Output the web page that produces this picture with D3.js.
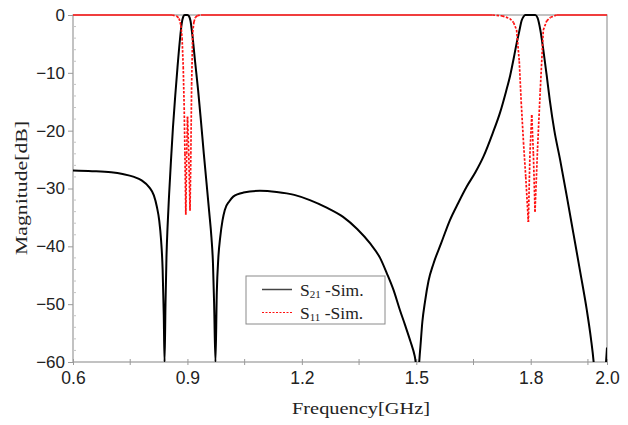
<!DOCTYPE html>
<html><head><meta charset="utf-8">
<script src="https://cdn.jsdelivr.net/npm/d3@7"></script>
<style>body{margin:0;background:#fff}svg{display:block}</style>
</head><body>
<script>
// ---- data ----
const s21Freq = [0.600,0.650,0.700,0.730,0.760,0.780,0.800,0.812,0.820,0.826,0.831,0.835,0.838,0.840,0.8425,0.845,0.848,0.852,0.857,0.862,0.868,0.874,0.880,0.885,0.889,0.893,0.900,0.904,0.908,0.913,0.920,0.928,0.935,0.943,0.950,0.957,0.963,0.967,0.970,0.9735,0.977,0.981,0.986,0.992,0.998,1.010,1.020,1.047,1.090,1.134,1.180,1.221,1.265,1.308,1.345,1.379,1.405,1.423,1.440,1.457,1.470,1.485,1.496,1.504,1.510,1.516,1.523,1.532,1.545,1.565,1.588,1.610,1.632,1.655,1.676,1.700,1.720,1.735,1.746,1.756,1.763,1.770,1.776,1.781,1.786,1.790,1.812,1.818,1.825,1.833,1.842,1.850,1.862,1.877,1.895,1.912,1.930,1.947,1.958,1.965,1.975,1.985,1.993,1.997,2.000];
const s21dB   = [-26.9,-27.0,-27.2,-27.5,-28.0,-28.6,-29.8,-31.2,-33.2,-35.5,-39,-44,-52,-60,-50,-42,-36.5,-31,-25,-19.5,-14,-9,-4.5,-1.5,-0.3,0,0,-0.2,-1,-3.5,-8,-13,-18,-24,-29,-34,-38.5,-43,-50,-60,-48,-42,-38.4,-35.5,-33.7,-32.2,-31.4,-30.7,-30.4,-30.6,-31.1,-32,-33.3,-34.9,-37,-39.5,-42,-44.7,-47.5,-51,-53.5,-56.5,-59,-62,-58,-53,-49.5,-46,-43,-39.5,-35.5,-32.5,-29.7,-27.2,-24.5,-20.5,-16.8,-13.3,-10.5,-7.3,-4.9,-2.8,-1.0,-0.3,0,0,0,-0.5,-2.5,-6,-10.5,-14.7,-20,-25,-31.5,-37.8,-44.5,-51,-56,-60,-70,-75,-65,-60.5,-57.5];
const s11Freq = [0.600,0.860,0.872,0.878,0.883,0.886,0.889,0.8915,0.8935,0.8957,0.898,0.9002,0.9035,0.9068,0.909,0.911,0.9138,0.917,0.921,0.926,0.935,1.700,1.725,1.745,1.755,1.763,1.770,1.775,1.781,1.787,1.7938,1.798,1.8027,1.807,1.8113,1.818,1.825,1.833,1.842,1.852,1.868,2.000];
const s11dB   = [0,0,-0.2,-0.6,-1.8,-4,-9,-16,-24,-34.5,-24,-17.6,-24,-33.8,-24,-12,-3,-1.2,-0.4,-0.1,0,0,-0.15,-0.6,-1.3,-2.6,-8,-15,-22,-28,-35.8,-24,-17.3,-24,-34,-23,-13,-2.6,-1,-0.4,0,0];
const xTicks = [0.6,0.9,1.2,1.5,1.8,2.0];
const xMinor = [0.75,1.05,1.35,1.65,1.95];
const yTicks = [0,-10,-20,-30,-40,-50,-60];
const legendLabels = [["S","21"," -Sim."],["S","11"," -Sim."]];
const xTitle = "Frequency[GHz]";
const yTitle = "Magnitude[dB]";

const W=628,H=425;
const L=73,R=607,T=15,B=362;
const svg=d3.select("body").append("svg").attr("width",W).attr("height",H);
const x=d3.scaleLinear().domain([0.6,2.0]).range([L,R]);
const y=d3.scaleLinear().domain([-60,0]).range([B,T]);
const axisCol="#9a9a9a";

svg.append("defs").append("clipPath").attr("id","clip")
  .append("rect").attr("x",L).attr("y",T-3).attr("width",R-L).attr("height",B-T+3);

// frame
svg.append("rect").attr("x",L).attr("y",T).attr("width",R-L).attr("height",B-T)
  .attr("fill","none").attr("stroke",axisCol).attr("stroke-width",1.2);

// y minor ticks
const yMinor=d3.range(-58,0,2).filter(v=>v%10!==0);
svg.append("g").selectAll("line").data(yMinor).join("line")
  .attr("x1",L).attr("x2",L+3).attr("y1",d=>y(d)).attr("y2",d=>y(d))
  .attr("stroke","#c4c4c4").attr("stroke-width",1);

// x axis
const xa=svg.append("g").attr("transform",`translate(0,${B})`)
  .call(d3.axisBottom(x).tickValues(xTicks).tickFormat(d3.format(".1f")).tickSize(4).tickPadding(6));
xa.select(".domain").remove();
xa.selectAll("line").attr("stroke",axisCol).attr("y1",-3).attr("y2",3);
xa.selectAll("text").attr("font-family","Liberation Sans, Arial, sans-serif").attr("font-size",17.5).attr("fill","#222");
svg.append("g").selectAll("line").data(xMinor).join("line")
  .attr("x1",d=>x(d)).attr("x2",d=>x(d)).attr("y1",B-3).attr("y2",B+3)
  .attr("stroke",axisCol);

// y axis
const ya=svg.append("g").attr("transform",`translate(${L},0)`)
  .call(d3.axisLeft(y).tickValues(yTicks).tickFormat(d3.format("d")).tickSize(5).tickPadding(3));
ya.select(".domain").remove();
ya.selectAll("line").attr("stroke",axisCol);
ya.selectAll("text").attr("font-family","Liberation Sans, Arial, sans-serif").attr("font-size",17).attr("fill","#222");

// titles
svg.append("text").attr("x",(L+R)/2+21).attr("y",414).attr("text-anchor","middle")
  .attr("font-family","Liberation Serif, Times New Roman, serif").attr("font-size",17.5)
  .attr("textLength",138).attr("lengthAdjust","spacingAndGlyphs").attr("fill","#222").text(xTitle);
svg.append("text").attr("transform","translate(27,188) rotate(-90)").attr("text-anchor","middle")
  .attr("font-family","Liberation Serif, Times New Roman, serif").attr("font-size",17.5)
  .attr("textLength",134).attr("lengthAdjust","spacingAndGlyphs").attr("fill","#222").text(yTitle);

const plot=svg.append("g").attr("clip-path","url(#clip)");

// S21 black
const s21=s21Freq.map((f,i)=>[f,s21dB[i]]);
plot.append("path").datum(s21)
  .attr("d",d3.line().x(d=>x(d[0])).y(d=>y(d[1])).curve(d3.curveMonotoneX))
  .attr("fill","none").attr("stroke","#000").attr("stroke-width",2);

// S11 red: segment-wise so flat runs look solid and steep runs dashed
const s11=s11Freq.map((f,i)=>[f,s11dB[i]]);
const segs=d3.pairs(s11);
plot.append("g").selectAll("line").data(segs).join("line")
  .attr("x1",d=>x(d[0][0])).attr("y1",d=>y(d[0][1]))
  .attr("x2",d=>x(d[1][0])).attr("y2",d=>y(d[1][1]))
  .attr("stroke","#ff1010").attr("stroke-width",1.7)
  .attr("stroke-dasharray",d=>Math.abs(y(d[1][1])-y(d[0][1]))>0.5?"2.5,1.5":null);

// legend
const lg=svg.append("g");
lg.append("rect").attr("x",246).attr("y",276).attr("width",139).attr("height",48)
  .attr("fill","#fff").attr("stroke","#8a8a8a").attr("stroke-width",1);
const lgY=[289.5,312.5];
const lgStyle=[{c:"#444",w:1.5,dash:null},{c:"#ff1010",w:1.2,dash:"2,1.5"}];
legendLabels.forEach((lab,i)=>{
  lg.append("line").attr("x1",262).attr("x2",292).attr("y1",lgY[i]).attr("y2",lgY[i])
    .attr("stroke",lgStyle[i].c).attr("stroke-width",lgStyle[i].w).attr("stroke-dasharray",lgStyle[i].dash);
  const t=lg.append("text").attr("x",300).attr("y",lgY[i]+6)
    .attr("font-family","Liberation Serif, Times New Roman, serif").attr("font-size",17.5).attr("fill","#222");
  t.append("tspan").text(lab[0]);
  t.append("tspan").attr("font-size",11).attr("dy",2).text(lab[1]);
  t.append("tspan").attr("dy",-2).text(lab[2]);
});
</script>
</body></html>
